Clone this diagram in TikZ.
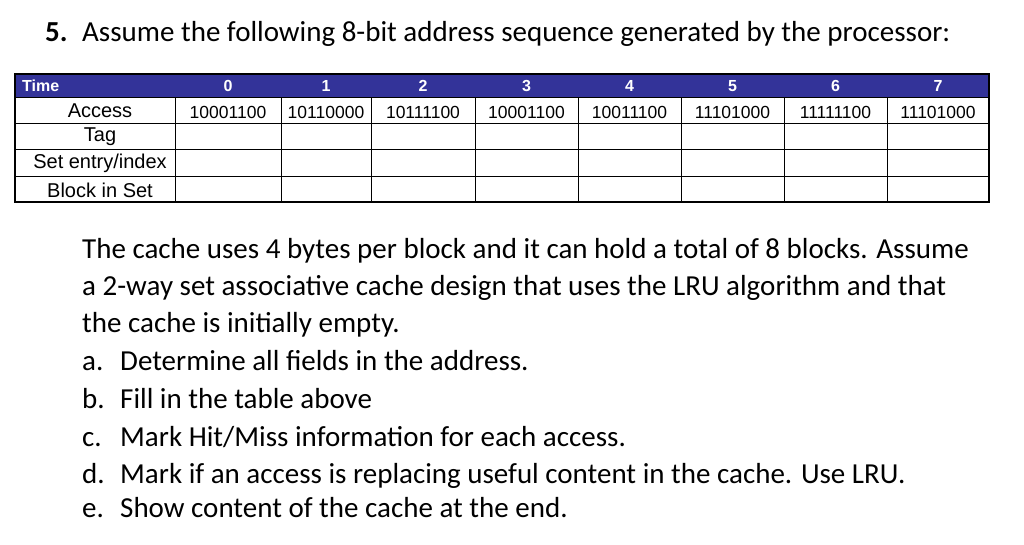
\documentclass[tikz,border=0pt]{standalone}
\usepackage{fontspec}
\setmainfont{Carlito}
\newfontfamily\tabfont{Liberation Sans}
\usetikzlibrary{positioning}
\definecolor{head blue}{rgb}{0.2, 0.2, 0.6}

\begin{document}
\begin{tikzpicture}[x=1pt,y=-1pt,
	celltext/.style={font=\tabfont\fontsize{17.5}{19}\selectfont, inner sep=0pt},
	labeltext/.style={font=\tabfont\fontsize{20}{22}\selectfont, inner sep=0pt},
	headtext/.style={font=\tabfont\bfseries\fontsize{16}{18}\selectfont, text=white, inner sep=0pt},
	bodytext/.style={font=\fontsize{29}{32}\selectfont, anchor=base west, inner sep=0pt}]
		\useasboundingbox (0,0) rectangle (1024,544);
		% title
		\node[bodytext] (num) at (45,41) {\textbf{5.}};
		\node[bodytext] (title) at (82,41) {Assume the following 8-bit address sequence generated by the processor:};
		% header bar
		\fill[head blue] (15,74) rectangle (989,97);
		\node[headtext, anchor=west] (time) at (22,86) {Time};
		\foreach \t/\xa/\xb in {0/175/281, 1/281/371, 2/371/475, 3/475/578, 4/578/681, 5/681/784, 6/784/887, 7/887/989}
			\node[headtext] (t\t) at ({(\xa+\xb)/2},86) {\t};
		% grid
		\draw[line width=1.2pt] (15,74) rectangle (989,202);
		\foreach \y in {97,123,149,176}
			\draw[line width=1pt] (15,\y) -- (989,\y);
		\foreach \x in {175,281,371,475,578,681,784,887}
			\draw[line width=1pt] (\x,97) -- (\x,202);
		% row labels
		\foreach \r/\y/\lab in {access/111/Access, tag/137/Tag, set/163/{Set entry/index}, block/190/Block in Set}
			\node[labeltext] (\r) at (100,\y) {\lab};
		% addresses
		\foreach \a/\xa/\xb/\v in {0/175/281/10001100, 1/281/371/10110000, 2/371/475/10111100, 3/475/578/10001100, 4/578/681/10011100, 5/681/784/11101000, 6/784/887/11111100, 7/887/989/11101000}
			\node[celltext] (a\a) at ({(\xa+\xb)/2},112) {\v};
		% question text
		\node[bodytext] (p1) at (82,258) {The cache uses 4 bytes per block and it can hold a total of 8 blocks. Assume};
		\node[bodytext] (p2) at (82,295) {a 2-way set associative cache design that uses the LRU algorithm and that};
		\node[bodytext] (p3) at (82,332) {the cache is initially empty.};
		\foreach \q/\y/\txt in {a/370/{Determine all fields in the address.}, b/408/{Fill in the table above}, c/446/{Mark Hit/Miss information for each access.}, d/483/{Mark if an access is replacing useful content in the cache. Use LRU.}, e/517/{Show content of the cache at the end.}}
		{
			\node[bodytext] (q\q) at (82,\y) {\q.};
			\node[bodytext] (qt\q) at (120,\y) {\txt};
		}
	\end{tikzpicture}
\end{document}
